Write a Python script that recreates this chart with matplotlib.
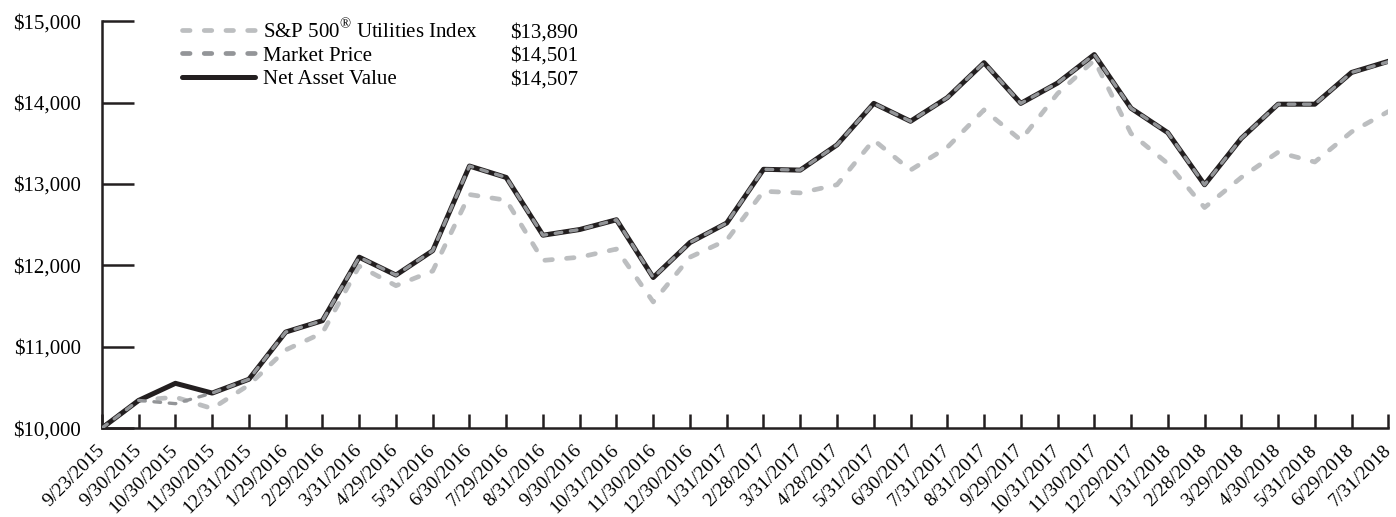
import matplotlib.pyplot as plt
from matplotlib.lines import Line2D
from matplotlib.ticker import FuncFormatter

plt.rcParams['font.family'] = 'Liberation Serif'
plt.rcParams['mathtext.fontset'] = 'custom'
plt.rcParams['mathtext.rm'] = 'Liberation Serif'

dates = ["9/23/2015", "9/30/2015", "10/30/2015", "11/30/2015", "12/31/2015",
         "1/29/2016", "2/29/2016", "3/31/2016", "4/29/2016", "5/31/2016",
         "6/30/2016", "7/29/2016", "8/31/2016", "9/30/2016", "10/31/2016",
         "11/30/2016", "12/30/2016", "1/31/2017", "2/28/2017", "3/31/2017",
         "4/28/2017", "5/31/2017", "6/30/2017", "7/31/2017", "8/31/2017",
         "9/29/2017", "10/31/2017", "11/30/2017", "12/29/2017", "1/31/2018",
         "2/28/2018", "3/29/2018", "4/30/2018", "5/31/2018", "6/29/2018",
         "7/31/2018"]

nav = [10000, 10340, 10550, 10430, 10600, 11180, 11320, 12100, 11880, 12180,
       13220, 13080, 12370, 12440, 12560, 11850, 12280, 12520, 13180, 13170,
       13480, 13990, 13770, 14060, 14490, 13990, 14240, 14590, 13930, 13630,
       12990, 13560, 13980, 13980, 14370, 14507]

market = [10000, 10340, 10300, 10430, 10600, 11180, 11320, 12100, 11880, 12180,
          13220, 13080, 12370, 12440, 12560, 11850, 12280, 12520, 13180, 13170,
          13480, 13990, 13770, 14060, 14490, 13990, 14240, 14590, 13930, 13630,
          12990, 13560, 13980, 13980, 14370, 14501]

utilities = [10000, 10340, 10380, 10240, 10530, 10960, 11170, 11990, 11750, 11930,
             12870, 12800, 12060, 12100, 12200, 11550, 12100, 12310, 12910, 12890,
             12990, 13540, 13170, 13450, 13910, 13540, 14110, 14520, 13620, 13250,
             12710, 13080, 13390, 13270, 13640, 13890]

labels = ["S&P 500$^{\\mathrm{\u00ae}}$ Utilities Index", "Market Price", "Net Asset Value"]
end_values = ["$13,890", "$14,501", "$14,507"]

UTIL_C = '#bcbec0'
MKT_C = '#939598'
NAV_C = '#231f20'

x = list(range(len(dates)))

fig = plt.figure(figsize=(13.96, 5.17), dpi=100)
ax = fig.add_axes([0.073, 0.172, 0.9215, 0.787])

ax.plot(x, utilities, color=UTIL_C, lw=3.4, dashes=(1.6, 3.0),
        dash_capstyle='round', zorder=2)
ax.plot(x, nav, color=NAV_C, lw=3.6, zorder=3)
ax.plot(x, market, color=MKT_C, lw=2.4, dashes=(2.0, 2.6),
        dash_capstyle='round', zorder=4)

ax.set_xlim(0, len(dates) - 1)
ax.set_ylim(10000, 15000)
ax.set_yticks([10000, 11000, 12000, 13000, 14000, 15000])
ax.yaxis.set_major_formatter(FuncFormatter(lambda v, p: '${:,.0f}'.format(v)))
ax.set_xticks(x)
ax.set_xticklabels(dates, rotation=45, ha='right', va='center',
                   rotation_mode='anchor')

for s in ['top', 'right']:
    ax.spines[s].set_visible(False)
for s in ['left', 'bottom']:
    ax.spines[s].set_linewidth(1.8)
    ax.spines[s].set_color(NAV_C)

ax.tick_params(axis='y', direction='in', length=23, width=1.8, color=NAV_C,
               labelsize=15, pad=15)
ax.tick_params(axis='x', direction='in', length=10, width=1.8, color=NAV_C,
               labelsize=14, pad=14)

# legend with closing values
handles = [Line2D([], [], color=UTIL_C, lw=3.4, dashes=(1.6, 3.0), dash_capstyle='round'),
           Line2D([], [], color=MKT_C, lw=3.4, dashes=(1.6, 3.0), dash_capstyle='round'),
           Line2D([], [], color=NAV_C, lw=3.6, solid_capstyle='round')]
leg = ax.legend(handles, labels, loc='upper left', bbox_to_anchor=(0.062, 1.005),
                frameon=False, fontsize=15, handlelength=3.5, handletextpad=0.4,
                labelspacing=0.17, borderaxespad=0, borderpad=0)
for i, v in enumerate(end_values):
    ax.text(0.317, 0.972 - i * 0.058, v, transform=ax.transAxes, fontsize=15,
            va='center', ha='left')

fig.savefig('out.png', dpi=100)
